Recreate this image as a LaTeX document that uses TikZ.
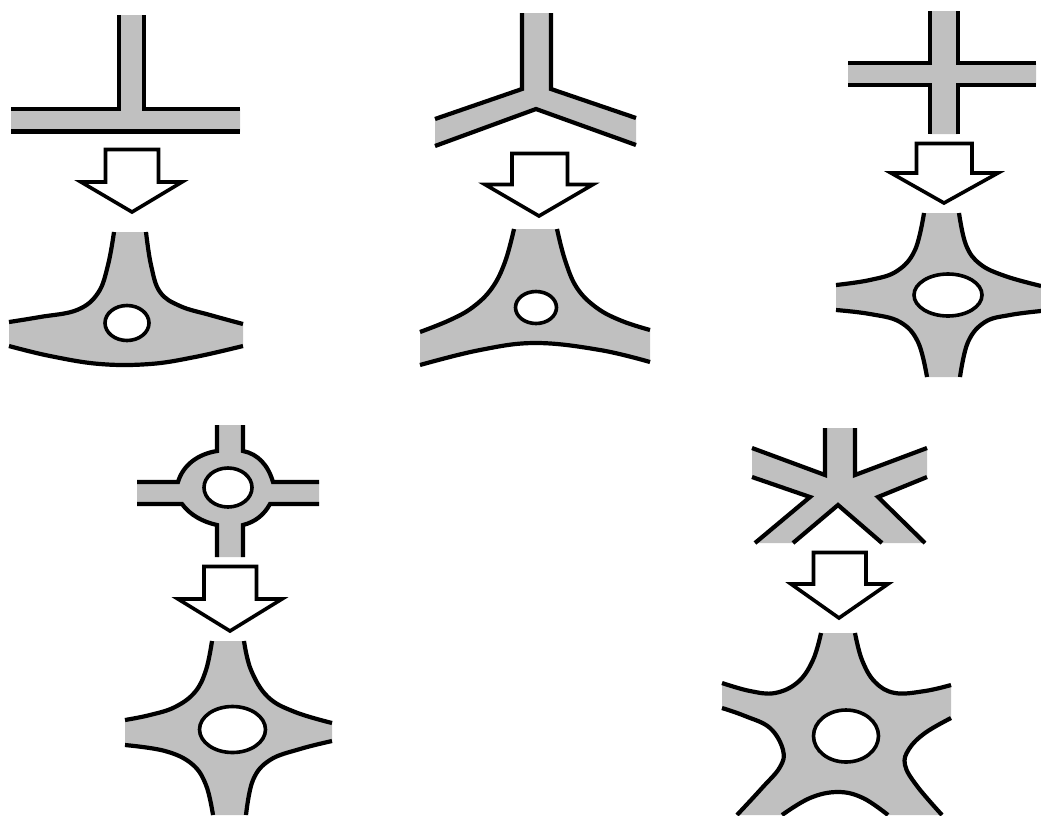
\documentclass[tikz,border=0pt]{standalone}
\definecolor{road}{RGB}{192,192,192}
\tikzset{
  x=1pt,y=-1pt,
  edge/.style={draw=black,line width=4.2pt,line cap=butt,line join=miter},
  body/.style={fill=road,draw=none},
  hole/.style={draw=black,fill=white,line width=3.6pt},
  bigarrow/.style={draw=black,fill=white,line width=3.6pt,line join=miter,miter limit=4},
  sm/.style={smooth,tension=0.65}
}
\newcommand{\downarrowshape}[7]{%
  \draw[bigarrow] (#1,#3) -- (#2,#3) -- (#2,#4) -- (#6,#4) -- #7 -- (#5,#4) -- (#1,#4) -- cycle;}
\newcommand{\fillroad}[1]{\edef\tmpq{\noexpand\fill[body] #1 -- cycle;}\tmpq}
\begin{document}
\begin{tikzpicture}
\useasboundingbox (0,0) rectangle (1041,815);
\fill[white] (0,0) rectangle (1041,815);

% ---- 1: T junction
\fill[body] (119,15) -- (144,15) -- (144,109) -- (240,109) -- (240,131.5) -- (11,131.5) -- (11,109) -- (119,109) -- cycle;
\draw[edge] (11,109) -- (119,109) -- (119,15);
\draw[edge] (144,15) -- (144,109) -- (240,109);
\draw[edge] (11,131.5) -- (240,131.5);
\downarrowshape{105.5}{158.5}{149.5}{182}{81}{182}{(132,212)}
\def\ra{plot[sm] coordinates {(9,322) (40,317) (77,310) (98,293) (108,265) (114,232)}}
\def\rb{plot[sm] coordinates {(146,232) (151,265) (160,292) (180,306) (210,315) (243,324)}}
\def\rc{plot[sm] coordinates {(243,346) (195,357) (150,364) (100,364) (50,356) (9,346)}}
\fillroad{\ra -- \rb -- \rc}
\draw[edge] \ra; \draw[edge] \rb; \draw[edge] \rc;
\draw[hole] (127,323) ellipse [x radius=22,y radius=17.5];

% ---- 2: Y junction
\fill[body] (522,13) -- (551,13) -- (551,89) -- (636,118) -- (636,145) -- (536,109) -- (435,147) -- (435,119) -- (522,89) -- cycle;
\draw[edge] (435,119) -- (522,89) -- (522,13);
\draw[edge] (551,13) -- (551,89) -- (636,118);
\draw[edge] (435,146) -- (536,109) -- (636,145);
\downarrowshape{512}{567.5}{153.5}{184.5}{485}{593}{(539,216)}
\def\ra{plot[sm] coordinates {(420,332) (450,320) (473,307) (492,288) (505,262) (514,229)}}
\def\rb{plot[sm] coordinates {(557,229) (565,260) (577,288) (597,308) (622,321) (650,330)}}
\def\rc{plot[sm] coordinates {(650,362) (600,350) (536,343) (480,350) (420,365)}}
\fillroad{\ra -- \rb -- \rc}
\draw[edge] \ra; \draw[edge] \rb; \draw[edge] \rc;
\draw[hole] (536,307.5) ellipse [x radius=20.5,y radius=16];

% ---- 3: crossing
\fill[body] (930,11) -- (958,11) -- (958,63) -- (1036,63) -- (1036,85) -- (958,85) -- (958,134) -- (930,134) -- (930,85) -- (848,85) -- (848,63) -- (930,63) -- cycle;
\draw[edge] (848,63) -- (930,63) -- (930,11);
\draw[edge] (958,11) -- (958,63) -- (1036,63);
\draw[edge] (848,85) -- (930,85) -- (930,134);
\draw[edge] (958,134) -- (958,85) -- (1036,85);
\downarrowshape{916.5}{972}{143.5}{173}{891}{998}{(944,203)}
\def\ra{plot[sm] coordinates {(836,285) (870,280) (897,271) (915,250) (924,213)}}
\def\rb{plot[sm] coordinates {(959,213) (966,245) (980,264) (1005,276) (1041,286)}}
\def\rc{plot[sm] coordinates {(1041,311) (1010,315) (985,322) (968,342) (960,377)}}
\def\rd{plot[sm] coordinates {(927,377) (918,342) (900,322) (870,314) (836,310)}}
\fillroad{\ra -- \rb -- \rc -- \rd}
\draw[edge] \ra; \draw[edge] \rb; \draw[edge] \rc; \draw[edge] \rd;
\draw[hole] (948,295) ellipse [x radius=34,y radius=21];

% ---- 4: roundabout
\def\ra{(137,482) -- (178,482) .. controls (183,465) and (198,454) .. (217,451) -- (217,425)}
\def\rb{(243,425) -- (243,451) .. controls (258,454) and (268,465) .. (273,482) -- (319,482)}
\def\rc{(319,504) -- (270,504) .. controls (264,515) and (255,522) .. (243,525) -- (243,557)}
\def\rd{(217,557) -- (217,525) .. controls (203,522) and (190,515) .. (182,504) -- (137,504)}
\fillroad{\ra -- \rb -- \rc -- \rd}
\draw[edge] \ra; \draw[edge] \rb; \draw[edge] \rc; \draw[edge] \rd;
\draw[hole] (228,487.5) ellipse [x radius=24,y radius=19.5];
\downarrowshape{204}{256.5}{566.5}{599}{178}{282}{(230,631)}
\def\ra{plot[sm] coordinates {(125,720) (150,715) (175,707) (195,692) (206,670) (212,641)}}
\def\rb{plot[sm] coordinates {(244,641) (251,670) (268,697) (295,712) (332,723)}}
\def\rc{plot[sm] coordinates {(332,741) (300,749) (270,760) (253,780) (246,815)}}
\def\rd{plot[sm] coordinates {(213,815) (206,785) (192,764) (165,751) (125,745)}}
\fillroad{\ra -- \rb -- \rc -- \rd}
\draw[edge] \ra; \draw[edge] \rb; \draw[edge] \rc; \draw[edge] \rd;
\draw[hole] (232.5,729.5) ellipse [x radius=33,y radius=23];

% ---- 5: five-way
\fill[body] (825,428) -- (855,428) -- (855,475) -- (927,448) -- (927,477) -- (878,497) -- (925,543) -- (882,543) -- (838,505) -- (793,543) -- (755,543) -- (810,497) -- (752,477) -- (752,448) -- (825,475) -- cycle;
\draw[edge] (752,448) -- (825,475) -- (825,428);
\draw[edge] (855,428) -- (855,475) -- (927,448);
\draw[edge] (927,477) -- (878,497) -- (925,543);
\draw[edge] (882,543) -- (838,505) -- (793,543);
\draw[edge] (755,543) -- (810,497) -- (752,477);
\downarrowshape{813.5}{866}{552.5}{584}{791}{888}{(839,618)}
\def\ra{plot[sm] coordinates {(722,683) (750,691) (775,693) (798,682) (813,660) (821,633)}}
\def\rb{plot[sm] coordinates {(855,633) (862,660) (875,682) (895,693) (925,691) (951,685)}}
\def\rc{plot[sm] coordinates {(951,718) (925,733) (909,749) (905,765) (917,786) (942,815)}}
\def\rd{plot[sm] coordinates {(888,815) (863,798) (838,792) (810,798) (782,815)}}
\def\re{plot[sm] coordinates {(737,815) (762,788) (780,767) (783,750) (770,728) (745,716) (722,708)}}
\fillroad{\ra -- \rb -- \rc -- \rd -- \re}
\draw[edge] \ra; \draw[edge] \rb; \draw[edge] \rc; \draw[edge] \rd; \draw[edge] \re;
\draw[hole] (846,736) ellipse [x radius=32.5,y radius=26];
\end{tikzpicture}
\end{document}
